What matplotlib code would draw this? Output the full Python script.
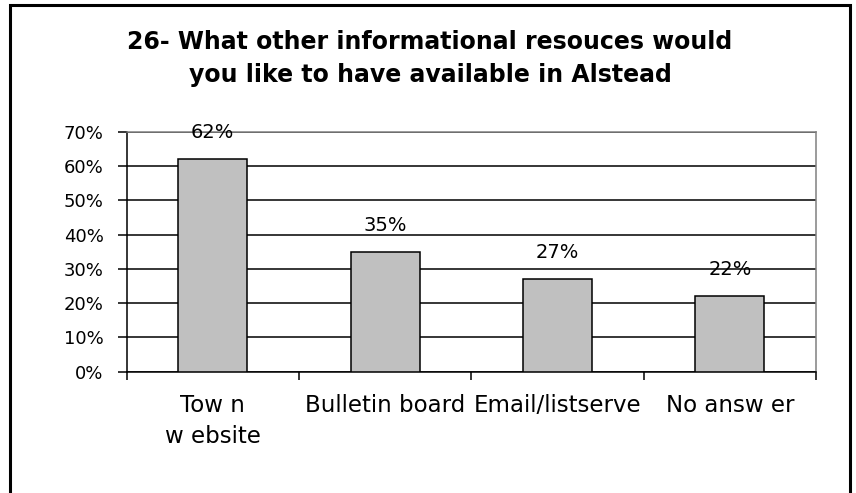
import matplotlib
matplotlib.use("Agg")
import matplotlib.pyplot as plt
from matplotlib.patches import Rectangle

# DejaVu is wide enough to match the stretched Excel text
plt.rcParams['font.family'] = ['DejaVu Sans']

# chart data
categories = ["Tow n\nw ebsite", "Bulletin board", "Email/listserve", "No answ er"]
values = [62, 35, 27, 22]
y_ticks = [0, 10, 20, 30, 40, 50, 60, 70]
title_lines = ["26- What other informational resouces would",
               "you like to have available in Alstead"]

W, H = 856, 493
fig = plt.figure(figsize=(W / 100, H / 100), dpi=100)

# outer chart border (bottom edge runs off the picture)
fig.patches.append(Rectangle((10 / W, -0.05), 840 / W, 1 - 5 / H + 0.05,
                             transform=fig.transFigure, fill=False,
                             edgecolor="black", linewidth=2.2))

# title
fig.text(430 / W, 1 - 49 / H, title_lines[0], ha="center", va="baseline",
         fontsize=17, fontweight="bold")
fig.text(430 / W, 1 - 82 / H, title_lines[1], ha="center", va="baseline",
         fontsize=17, fontweight="bold")

ax = fig.add_axes([126.5 / W, 1 - 371.7 / H, (816 - 126.5) / W, (371.7 - 131.7) / H])

centers = [i + 0.5 for i in range(len(categories))]
bars = ax.bar(centers, values, width=0.4, color="#C0C0C0", edgecolor="black",
              linewidth=1.1, zorder=3)

for c, v in zip(centers, values):
    ax.annotate(f"{v}%", (c, v), xytext=(0, 15), textcoords="offset points",
                ha="center", va="baseline", fontsize=14, zorder=4)

ax.set_xlim(0, len(categories))
ax.set_ylim(0, 70)
ax.set_yticks(y_ticks)
ax.set_yticklabels([f"{t}%" for t in y_ticks], fontsize=13)
ax.tick_params(axis="y", length=6.5, width=1.1, pad=10)

# tick marks at category boundaries, labels in the middle
ax.set_xticks(range(len(categories) + 1))
ax.set_xticklabels([])
ax.set_xticks(centers, minor=True)
ax.set_xticklabels(categories, minor=True, fontsize=16.5, linespacing=1.45)
ax.tick_params(axis="x", which="major", length=6, width=1.1)
ax.tick_params(axis="x", which="minor", length=0, pad=16)

ax.yaxis.grid(True, color="black", linewidth=1.1, zorder=0)
ax.set_axisbelow(True)
ax.spines["left"].set_linewidth(1.1)
ax.spines["bottom"].set_linewidth(1.1)
ax.spines["top"].set_color("#808080")
ax.spines["right"].set_color("#808080")
ax.spines["top"].set_linewidth(1.1)
ax.spines["right"].set_linewidth(1.1)

fig.savefig("out.png", dpi=100)
